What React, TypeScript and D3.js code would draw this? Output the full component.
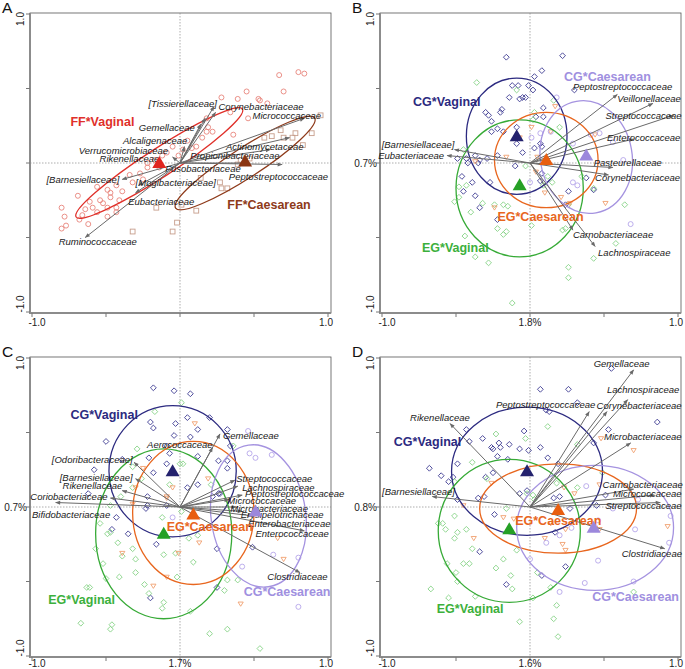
import React from 'react';
import * as d3 from 'd3';

type Pt = [number, number];
type Arrow = [string, number, number, number, number, 'start' | 'end'];
type Ell = [number, number, number, number, number];
type GLabel = [string, number, number];

// ---------------- Panel A ----------------
const A_ffVaginal: Pt[] = [
  [0.67, 0.59], [0.80, 0.61], [0.84, 0.60], [0.70, 0.48], [0.45, 0.48], [0.39, 0.43], [0.28, 0.44],
  [0.53, 0.43], [0.54, 0.42], [0.59, 0.40], [0.46, 0.30], [0.34, 0.34], [0.36, 0.19], [0.18, 0.30],
  [0.19, 0.24], [0.22, 0.21], [0.18, 0.21], [0.15, 0.17], [0.11, 0.11], [0.08, 0.10], [0.05, 0.15],
  [0.02, 0.09], [-0.01, 0.05], [-0.05, 0.11], [-0.09, 0.07], [-0.12, 0.05], [-0.22, 0.0],
  [-0.69, -0.22], [-0.80, -0.30], [-0.78, -0.36], [-0.80, -0.44], [-0.77, -0.42], [-0.68, -0.38],
  [-0.62, -0.41], [-0.64, -0.31], [-0.56, -0.16], [-0.49, -0.18], [-0.47, -0.20], [-0.54, -0.25],
  [-0.52, -0.27], [-0.59, -0.30], [-0.49, -0.30], [-0.43, -0.30], [-0.47, -0.23], [-0.39, -0.19],
  [-0.34, -0.08], [-0.27, -0.07], [-0.25, -0.11], [-0.32, -0.13], [-0.22, -0.03], [-0.43, -0.15],
  [-0.49, -0.36], [-0.43, -0.33], [-0.56, -0.33], [-0.66, -0.35], [-0.61, -0.26], [-0.41, -0.25],
  [-0.17, 0.02], [-0.14, -0.03],
];
const A_ffCaesarean: Pt[] = [
  [0.95, 0.32], [0.89, 0.20], [0.78, 0.20], [0.76, 0.17], [0.83, 0.12], [0.70, 0.17], [0.62, 0.18],
  [0.57, 0.17], [0.68, 0.22], [0.41, 0.02], [0.27, -0.13], [0.32, -0.17], [0.28, -0.17], [-0.16, -0.30],
  [0.11, -0.32], [-0.02, -0.40], [-0.05, -0.46], [-0.32, -0.46], [0.01, -0.28], [0.14, -0.10],
  [0.39, -0.01], [0.47, 0.03],
];
const A_centroids: Pt[] = [[-0.14, 0.0], [0.44, 0.01]];
const A_ellipses: Ell[] = [[-0.14, 0.0, 0.67, 0.095, 33], [0.44, 0.0, 0.56, 0.1, 33]];
const A_groupLabels: GLabel[] = [['FF*Vaginal', -0.74, 0.28], ['FF*Caesarean', 0.32, -0.28]];
const A_arrows: Arrow[] = [
  ['[Tissierellaceae]', 0.23, 0.38, 0.25, 0.40, 'end'],
  ['Corynebacteriaceae', 0.24, 0.34, 0.26, 0.38, 'start'],
  ['Micrococcaceae', 0.84, 0.30, 0.49, 0.32, 'start'],
  ['Gemellaceae', 0.17, 0.30, 0.10, 0.24, 'end'],
  ['Alcaligenaceae', 0.14, 0.26, 0.05, 0.15, 'end'],
  ['Verrucomicrobiaceae', 0.03, 0.11, -0.08, 0.08, 'end'],
  ['Rikenellaceae', -0.05, 0.04, -0.14, 0.03, 'end'],
  ['Actinomycetaceae', 0.74, 0.17, 0.31, 0.11, 'start'],
  ['Propionibacteriaceae', 0.61, 0.09, 0.07, 0.05, 'start'],
  ['Fusobacteriaceae', 0.45, 0.0, -0.10, -0.04, 'start'],
  ['Peptostreptococcaceae', 0.69, -0.01, 0.33, -0.09, 'start'],
  ['[Barnesiellaceae]', -0.39, -0.11, -0.41, -0.11, 'end'],
  ['[Mogibacteriaceae]', -0.28, -0.15, -0.30, -0.13, 'start'],
  ['Eubacteriaceae', -0.30, -0.20, -0.35, -0.26, 'start'],
  ['Ruminococcaceae', -0.64, -0.50, -0.82, -0.53, 'start'],
];

// ---------------- Panel B ----------------
const B_cgVaginal: Pt[] = [
  [-0.16, 0.71], [0.22, 0.72], [0.08, 0.62], [0.03, 0.58], [-0.12, 0.52], [-0.08, 0.52], [-0.01, 0.52],
  [0.02, 0.49], [-0.14, 0.44], [-0.05, 0.44], [-0.03, 0.44], [-0.07, 0.43], [-0.30, 0.34], [-0.28, 0.32],
  [-0.19, 0.36], [-0.20, 0.34], [-0.26, 0.28], [-0.22, 0.23], [-0.18, 0.21], [-0.26, 0.21], [-0.09, 0.24],
  [0.09, 0.37], [0.04, 0.31], [0.09, 0.31], [0.07, 0.13], [0.08, 0.11], [0.03, 0.10], [-0.09, 0.13],
  [-0.05, 0.07], [-0.43, 0.03], [-0.37, 0.05], [-0.34, 0.02], [-0.29, 0.03], [-0.35, 0.0], [-0.49, 0.03],
  [-0.42, 0.0], [-0.22, 0.05], [0.30, 0.49], [-0.46, -0.09], [-0.39, -0.13], [-0.45, -0.19],
  [-0.37, -0.22], [-0.34, -0.30], [-0.27, -0.13], [-0.22, -0.38], [-0.10, -0.02], [0.07, -0.12],
  [0.26, -0.19], [0.38, -0.10], [0.43, -0.18], [0.24, -0.28], [0.08, -0.07],
];
const B_egVaginal: Pt[] = [
  [-0.36, 0.54], [-0.09, 0.49], [0.03, 0.34], [0.16, 0.42], [0.20, 0.24], [0.02, 0.29], [-0.45, 0.09],
  [-0.51, -0.26], [-0.48, -0.23], [-0.43, -0.15], [-0.48, -0.16], [-0.40, -0.33], [-0.32, -0.27],
  [-0.24, -0.28], [-0.18, -0.28], [-0.15, -0.29], [-0.44, -0.49], [-0.37, -0.63], [-0.28, -0.67],
  [-0.22, -0.44], [-0.16, -0.46], [-0.18, -0.48], [0.01, -0.42], [0.22, -0.45], [0.24, -0.44],
  [0.26, -0.28], [0.35, -0.09], [0.43, -0.17], [0.58, -0.54], [0.43, -0.64], [0.26, -0.70],
  [0.26, -0.77], [-0.12, -0.94], [0.12, -0.09], [-0.03, -0.02], [0.09, -0.15], [0.15, -0.13], [0.64, -0.28],
];
const B_egCaesarean: Pt[] = [
  [0.17, 0.38], [0.01, 0.24], [0.14, 0.21], [-0.07, 0.17], [-0.16, 0.04], [-0.37, 0.01], [0.44, 0.19],
  [0.05, 0.04], [0.04, -0.06], [0.10, -0.20], [0.21, -0.23], [0.27, -0.27], [0.51, -0.27], [-0.24, -0.30],
];
const B_cgCaesarean: Pt[] = [
  [0.18, 0.44], [0.01, 0.17], [0.07, 0.20], [0.14, 0.21], [0.41, 0.19], [0.47, 0.20], [0.56, 0.14],
  [0.29, 0.13], [0.63, 0.02], [0.0, -0.13], [0.29, -0.13], [0.32, -0.15], [0.68, -0.41],
];
const B_centroids: Pt[] = [[-0.09, 0.18], [-0.07, -0.15], [0.11, 0.02], [0.38, 0.05]];
const B_ellipses: Ell[] = [
  [-0.09, 0.18, 0.34, 0.39, 0], [-0.07, -0.17, 0.43, 0.46, 0], [0.11, 0.02, 0.35, 0.32, 0], [0.38, 0.04, 0.31, 0.38, 10],
];
const B_groupLabels: GLabel[] = [
  ['CG*Vaginal', -0.79, 0.41], ['EG*Vaginal', -0.73, -0.57], ['EG*Caesarean', -0.22, -0.36], ['CG*Caesarean', 0.23, 0.58],
];
const B_arrows: Arrow[] = [
  ['Peptostreptococcaceae', 0.59, 0.46, 0.29, 0.51, 'start'],
  ['Veillonellaceae', 0.83, 0.40, 0.59, 0.43, 'start'],
  ['Streptococcaceae', 0.97, 0.32, 0.51, 0.32, 'start'],
  ['Enterococcaceae', 0.70, 0.16, 0.52, 0.17, 'start'],
  ['Pasteurellaceae', 0.56, -0.03, 0.43, 0.0, 'start'],
  ['Corynebacteriaceae', 0.53, -0.08, 0.44, -0.10, 'start'],
  ['Carnobacteriaceae', 0.29, -0.45, 0.29, -0.48, 'start'],
  ['Lachnospiraceae', 0.44, -0.56, 0.46, -0.60, 'start'],
  ['[Barnesiellaceae]', -0.51, 0.09, -0.51, 0.12, 'end'],
  ['Eubacteriaceae', -0.56, 0.05, -0.58, 0.05, 'end'],
];

// ---------------- Panel C ----------------
const C_cgVaginal: Pt[] = [
  [-0.18, 0.80], [-0.04, 0.78], [0.07, 0.76], [-0.20, 0.57], [-0.18, 0.53], [-0.03, 0.56], [0.05, 0.60],
  [0.12, 0.52], [0.20, 0.60], [0.32, 0.52], [-0.50, 0.44], [-0.04, 0.48], [0.07, 0.47], [-0.09, 0.41],
  [-0.07, 0.36], [-0.21, 0.33], [-0.09, 0.29], [-0.18, 0.23], [-0.39, 0.32], [0.12, 0.34], [0.12, 0.15],
  [0.32, 0.31], [0.26, 0.31], [0.32, 0.26], [-0.58, 0.25], [-0.22, 0.07], [0.05, 0.13], [0.26, 0.09],
  [0.22, 0.07], [0.34, 0.41], [-0.62, 0.09], [-0.22, 0.01], [-0.23, -0.01], [-0.43, -0.07], [-0.46, -0.15],
  [-0.35, -0.18], [-0.16, -0.25], [0.25, -0.28], [0.25, -0.54], [-0.20, -0.61], [0.49, -0.27], [0.27, 0.09],
  [-0.09, 0.01],
];
const C_egVaginal: Pt[] = [
  [-0.17, 0.64], [0.01, 0.70], [-0.29, 0.39], [0.0, 0.29], [0.02, 0.29], [0.36, 0.41], [0.21, 0.15],
  [-0.07, 0.15], [-0.26, 0.19], [-0.32, 0.27], [-0.32, 0.13], [-0.54, -0.11], [-0.49, -0.18], [-0.57, -0.28],
  [-0.47, -0.17], [-0.42, -0.24], [-0.52, -0.38], [-0.50, -0.48], [-0.63, -0.54], [-0.61, -0.54],
  [-0.67, -0.78], [-0.46, -0.79], [-0.47, -0.82], [-0.41, -0.47], [-0.30, -0.44], [-0.30, -0.35],
  [-0.39, -0.33], [-0.32, -0.28], [-0.24, -0.52], [-0.21, -0.58], [-0.11, -0.64], [-0.12, -0.68],
  [-0.11, -0.32], [-0.03, -0.31], [-0.02, -0.47], [0.09, -0.37], [0.06, -0.21], [0.07, -0.70], [0.12, -0.19],
  [0.32, -0.49], [0.30, -0.56], [0.39, -0.49], [0.20, -0.85], [0.32, -0.82], [0.54, -0.95], [-0.12, -0.07],
  [-0.47, 0.01], [-0.40, 0.07], [0.01, -0.03],
];
const C_egCaesarean: Pt[] = [
  [0.10, 0.56], [0.19, 0.19], [-0.05, 0.13], [-0.09, 0.07], [-0.30, 0.13], [-0.25, 0.26], [-0.32, 0.02],
  [-0.39, -0.31], [-0.01, -0.31], [0.13, -0.24], [-0.09, -0.47], [-0.18, -0.53], [0.41, -0.65],
  [0.70, -0.35], [0.66, -0.21], [-0.09, 0.06],
];
const C_cgCaesarean: Pt[] = [
  [0.46, 0.51], [0.47, 0.36], [0.51, 0.33], [0.62, 0.35], [-0.05, -0.07], [0.63, -0.32], [0.80, -0.34],
  [0.80, -0.67], [0.42, -0.40],
];
const C_centroids: Pt[] = [[-0.05, 0.24], [-0.11, -0.18], [0.09, -0.05], [0.51, -0.03]];
const C_ellipses: Ell[] = [
  [-0.05, 0.24, 0.43, 0.44, 0], [-0.11, -0.18, 0.46, 0.57, 0], [0.09, -0.04, 0.41, 0.48, 0], [0.53, -0.06, 0.32, 0.48, 8],
];
const C_groupLabels: GLabel[] = [
  ['CG*Vaginal', -0.74, 0.62], ['EG*Vaginal', -0.89, -0.62], ['EG*Caesarean', -0.09, -0.13], ['CG*Caesarean', 0.43, -0.57],
];
const C_arrows: Arrow[] = [
  ['Gemellaceae', 0.27, 0.49, 0.29, 0.48, 'start'],
  ['Aerococcaceae', 0.22, 0.40, 0.22, 0.42, 'end'],
  ['[Odoribacteraceae]', -0.31, 0.30, -0.32, 0.32, 'end'],
  ['[Barnesiellaceae]', -0.30, 0.19, -0.32, 0.20, 'end'],
  ['Rikenellaceae', -0.39, 0.11, -0.39, 0.14, 'end'],
  ['Coriobacteriaceae', -0.47, 0.06, -0.49, 0.07, 'end'],
  ['Bifidobacteriaceae', -0.84, 0.03, -1.0, -0.05, 'start'],
  ['Streptococcaceae', 0.37, 0.18, 0.38, 0.19, 'start'],
  ['Lachnospiraceae', 0.39, 0.14, 0.42, 0.13, 'start'],
  ['Peptostreptococcaceae', 0.42, 0.08, 0.44, 0.09, 'start'],
  ['Micrococcaceae', 0.33, 0.05, 0.32, 0.04, 'start'],
  ['Microbacteriaceae', 0.38, 0.0, 0.34, -0.01, 'start'],
  ['Erysipelotrichaceae', 0.42, -0.03, 0.41, -0.05, 'start'],
  ['Enterobacteriaceae', 0.49, -0.06, 0.46, -0.11, 'start'],
  ['Enterococcaceae', 0.84, -0.16, 0.51, -0.18, 'start'],
  ['Clostridiaceae', 0.81, -0.44, 0.59, -0.47, 'start'],
];

// ---------------- Panel D ----------------
const D_cgVaginal: Pt[] = [
  [0.55, 0.93], [0.07, 0.79], [0.26, 0.79], [0.32, 0.70], [0.11, 0.65], [0.13, 0.64], [0.86, 0.57],
  [-0.43, 0.52], [-0.04, 0.51], [0.53, 0.52], [-0.41, 0.44], [-0.32, 0.46], [-0.21, 0.43], [-0.14, 0.42],
  [-0.26, 0.40], [-0.25, 0.39], [-0.20, 0.40], [-0.07, 0.39], [-0.01, 0.38], [0.07, 0.40], [-0.22, 0.34],
  [-0.15, 0.32], [0.12, 0.33], [0.43, 0.43], [-0.68, 0.26], [-0.60, 0.21], [-0.52, 0.20], [-0.55, 0.17],
  [-0.49, 0.29], [-0.30, 0.20], [-0.25, 0.23], [0.19, 0.29], [-0.02, 0.11], [-0.07, 0.09], [-0.31, 0.07],
  [-0.49, 0.05], [-0.35, 0.06], [-0.24, -0.05], [-0.34, -0.30], [-0.16, -0.52], [0.08, -0.46],
  [0.17, -0.17], [0.24, -0.40], [0.16, 0.06], [0.20, 0.07], [0.27, -0.01], [0.51, 0.08], [0.45, 0.01],
];
const D_egVaginal: Pt[] = [
  [-0.23, 0.49], [-0.03, 0.46], [0.12, 0.54], [-0.39, 0.30], [-0.29, 0.19], [-0.51, 0.17], [0.32, 0.42],
  [0.32, 0.13], [0.18, 0.16], [0.02, 0.08], [0.49, 0.23], [-0.62, -0.11], [-0.59, -0.11], [-0.57, -0.15],
  [-0.51, -0.06], [-0.49, -0.17], [-0.51, -0.21], [-0.43, -0.15], [-0.39, -0.28], [-0.45, -0.38],
  [-0.41, -0.38], [-0.56, -0.38], [-0.50, -0.44], [-0.49, -0.50], [-0.67, -0.55], [-0.55, -0.61],
  [-0.37, -0.60], [-0.18, -0.35], [-0.23, -0.41], [-0.13, -0.46], [-0.12, -0.55], [-0.09, -0.29],
  [0.02, -0.61], [0.05, -0.44], [0.14, -0.54], [0.18, -0.66], [0.16, -0.75], [0.19, -0.87], [-0.07, -0.77],
  [0.70, -0.57], [-0.16, -0.01], [-0.02, 0.09], [0.03, 0.05],
];
const D_egCaesarean: Pt[] = [
  [0.48, 0.46], [0.70, 0.38], [-0.26, 0.16], [0.23, 0.13], [0.47, 0.15], [0.30, 0.09], [-0.45, 0.01],
  [-0.18, -0.07], [-0.38, -0.21], [0.10, -0.21], [0.22, -0.25], [0.24, -0.29], [0.24, -0.15], [0.14, -0.11],
  [0.44, -0.14], [0.47, -0.15], [0.93, -0.13], [-0.11, -0.08],
];
const D_cgCaesarean: Pt[] = [
  [0.38, 0.14], [0.46, -0.09], [0.71, -0.15], [0.95, -0.06], [0.94, -0.24], [0.46, -0.36], [0.37, -0.51],
  [0.20, -0.57], [0.70, -0.50], [0.56, -0.01], [0.28, -0.14], [0.20, -0.19], [0.0, -0.35], [0.11, -0.24],
  [0.73, 0.05],
];
const D_centroids: Pt[] = [[-0.02, 0.24], [-0.14, -0.15], [0.19, -0.02], [0.43, -0.14]];
const D_ellipses: Ell[] = [
  [-0.02, 0.24, 0.51, 0.43, 0], [-0.14, -0.16, 0.48, 0.48, 0], [0.19, -0.01, 0.53, 0.30, 0], [0.44, -0.14, 0.53, 0.42, 0],
];
const D_groupLabels: GLabel[] = [
  ['CG*Vaginal', -0.92, 0.44], ['EG*Vaginal', -0.63, -0.68], ['EG*Caesarean', -0.10, -0.09], ['CG*Caesarean', 0.42, -0.60],
];
const D_arrows: Arrow[] = [
  ['Gemellaceae', 0.70, 0.92, 0.43, 0.96, 'start'],
  ['Lachnospiraceae', 0.66, 0.72, 0.52, 0.79, 'start'],
  ['Corynebacteriaceae', 0.52, 0.64, 0.45, 0.68, 'start'],
  ['Peptostreptococcaceae', 0.40, 0.64, -0.23, 0.69, 'start'],
  ['Rikenellaceae', -0.54, 0.56, -0.81, 0.60, 'start'],
  ['Microbacteriaceae', 0.68, 0.43, 0.50, 0.47, 'start'],
  ['[Barnesiellaceae]', -0.66, 0.07, -1.0, 0.10, 'start'],
  ['Carnobacteriaceae', 0.70, 0.12, 0.49, 0.15, 'start'],
  ['Micrococcaceae', 0.84, 0.08, 0.56, 0.09, 'start'],
  ['Streptococcaceae', 0.88, 0.03, 0.51, 0.01, 'start'],
  ['Clostridiaceae', 0.91, -0.28, 0.62, -0.31, 'start'],
];

// axis labels
const xTickLabels = [['-1.0', '', '1.0'], ['-1.0', '1.8%', '1.0'], ['-1.0', '1.7%', '1.0'], ['-1.0', '1.6%', '1.0']];
const yMidLabels = ['', '0.7%', '0.7%', '0.8%'];
const panelLetters = ['A', 'B', 'C', 'D'];
const ticks = [-1, -0.5, 0, 0.5, 1];

// ---------------- styles ----------------
type Shape = 'circle' | 'square' | 'diamond' | 'down';
interface GroupStyle { shape: Shape; pt: string; line: string; tri: string; text: string; }
const S_ffv: GroupStyle = { shape: 'circle', pt: '#e8847c', line: '#e0302a', tri: '#e0251f', text: '#e0302a' };
const S_ffc: GroupStyle = { shape: 'square', pt: '#c79e8c', line: '#8e3a1a', tri: '#8a3512', text: '#8e3a1a' };
const S_cgv: GroupStyle = { shape: 'diamond', pt: '#3d3b92', line: '#2c2a80', tri: '#24226e', text: '#2c2a80' };
const S_egv: GroupStyle = { shape: 'diamond', pt: '#86d286', line: '#36aa36', tri: '#26a026', text: '#3cb03c' };
const S_egc: GroupStyle = { shape: 'down', pt: '#f0a070', line: '#e8661e', tri: '#e85e10', text: '#e8661e' };
const S_cgc: GroupStyle = { shape: 'circle', pt: '#b6a6ea', line: '#a593e0', tri: '#9c88dc', text: '#a090e0' };

interface PanelData {
  groups: { pts: Pt[]; style: GroupStyle }[];
  centroids: Pt[];
  ellipses: Ell[];
  labels: GLabel[];
  arrows: Arrow[];
}

const panels: PanelData[] = [
  { groups: [{ pts: A_ffVaginal, style: S_ffv }, { pts: A_ffCaesarean, style: S_ffc }], centroids: A_centroids, ellipses: A_ellipses, labels: A_groupLabels, arrows: A_arrows },
  { groups: [{ pts: B_cgVaginal, style: S_cgv }, { pts: B_egVaginal, style: S_egv }, { pts: B_egCaesarean, style: S_egc }, { pts: B_cgCaesarean, style: S_cgc }], centroids: B_centroids, ellipses: B_ellipses, labels: B_groupLabels, arrows: B_arrows },
  { groups: [{ pts: C_cgVaginal, style: S_cgv }, { pts: C_egVaginal, style: S_egv }, { pts: C_egCaesarean, style: S_egc }, { pts: C_cgCaesarean, style: S_cgc }], centroids: C_centroids, ellipses: C_ellipses, labels: C_groupLabels, arrows: C_arrows },
  { groups: [{ pts: D_cgVaginal, style: S_cgv }, { pts: D_egVaginal, style: S_egv }, { pts: D_egCaesarean, style: S_egc }, { pts: D_cgCaesarean, style: S_cgc }], centroids: D_centroids, ellipses: D_ellipses, labels: D_groupLabels, arrows: D_arrows },
];
const offsets: Pt[] = [[0, 0], [350, 0], [0, 344], [350, 344]];

const FONT = '"Liberation Sans", Arial, sans-serif';

function Marker({ shape, color, x, y }: { shape: Shape; color: string; x: number; y: number }) {
  const common = { fill: 'none', stroke: color, strokeWidth: 0.9 };
  if (shape === 'circle') return <circle cx={x} cy={y} r={2.5} {...common} />;
  if (shape === 'square') return <rect x={x - 2.4} y={y - 2.4} width={4.8} height={4.8} {...common} />;
  if (shape === 'diamond') return <path d={`M${x},${y - 2.9}L${x + 2.9},${y}L${x},${y + 2.9}L${x - 2.9},${y}Z`} {...common} />;
  return <path d={`M${x - 2.6},${y - 1.8}L${x + 2.6},${y - 1.8}L${x},${y + 2.4}Z`} {...common} />;
}

function Panel({ idx }: { idx: number }) {
  const data = panels[idx];
  const [ox, oy] = offsets[idx];
  const x = d3.scaleLinear().domain([-1, 1]).range([32, 328]);
  const y = d3.scaleLinear().domain([-1, 1]).range([312, 14]);
  const left = 30, right = 331, top = 13, bottom = 313;
  const cx0 = x(0), cy0 = y(0);
  const styles = data.groups.map((g) => g.style);
  const xl = xTickLabels[idx];
  const xLabY = idx < 2 ? bottom + 13 : bottom + 10;
  return (
    <g transform={`translate(${ox},${oy})`} fontFamily={FONT}>
      <text x={2} y={idx < 2 ? 13 : 13} fontSize={15.5} fill="#111">{panelLetters[idx]}</text>
      <rect x={left} y={top} width={right - left} height={bottom - top} fill="#fff" stroke="#555" strokeWidth={0.8} />
      <line x1={cx0} x2={cx0} y1={top} y2={bottom} stroke="#8a8a8a" strokeWidth={0.7} strokeDasharray="1.5,1.5" />
      <line x1={left} x2={right} y1={cy0} y2={cy0} stroke="#8a8a8a" strokeWidth={0.7} strokeDasharray="1.5,1.5" />
      {/* axes */}
      <line x1={left} x2={left} y1={top} y2={bottom + 1} stroke="#8c8c8c" strokeWidth={2} />
      <line x1={left - 1} x2={right} y1={bottom} y2={bottom} stroke="#8c8c8c" strokeWidth={2} />
      {ticks.map((t) => (
        <g key={'t' + t}>
          <line x1={left} x2={left - 4} y1={y(t)} y2={y(t)} stroke="#777" strokeWidth={1} />
          <line x1={x(t)} x2={x(t)} y1={bottom} y2={bottom + 4} stroke="#777" strokeWidth={1} />
        </g>
      ))}
      <text x={x(-1) + 5} y={xLabY} fontSize={10} textAnchor="middle" fill="#222">{xl[0]}</text>
      {xl[1] && <text x={cx0} y={xLabY} fontSize={10} textAnchor="middle" fill="#222">{xl[1]}</text>}
      <text x={x(1) - 2} y={xLabY} fontSize={10} textAnchor="middle" fill="#222">{xl[2]}</text>
      <text transform={`translate(${left - 6},${top + 6}) rotate(-90)`} fontSize={10} textAnchor="middle" fill="#222">1.0</text>
      <text transform={`translate(${left - 6},${bottom - 9}) rotate(-90)`} fontSize={10} textAnchor="middle" fill="#222">-1.0</text>
      {yMidLabels[idx] && <text x={left - 3} y={cy0 + 4} fontSize={10} textAnchor="end" fill="#222">{yMidLabels[idx]}</text>}
      {/* points */}
      {data.groups.map((g, gi) => (
        <g key={'g' + gi}>
          {g.pts.map((p, i) => <Marker key={i} shape={g.style.shape} color={g.style.pt} x={x(p[0])} y={y(p[1])} />)}
        </g>
      ))}
      {/* ellipses */}
      {data.ellipses.map((e, i) => (
        <ellipse key={'e' + i} cx={x(e[0])} cy={y(e[1])} rx={x(e[2]) - x(0)} ry={y(0) - y(e[3])}
          transform={`rotate(${-e[4]},${x(e[0])},${y(e[1])})`} fill="none" stroke={styles[i].line} strokeWidth={1.3} />
      ))}
      {/* arrows */}
      {data.arrows.map((a, i) => (
        <line key={'a' + i} x1={cx0} y1={cy0} x2={x(a[1])} y2={y(a[2])} stroke="#6a6a6a" strokeWidth={1} markerEnd="url(#ah)" />
      ))}
      {data.arrows.map((a, i) => (
        <text key={'al' + i} x={x(a[3])} y={y(a[4])} dy="0.35em" fontSize={9.5} fontStyle="italic" textAnchor={a[5]} fill="#1a1a1a">{a[0]}</text>
      ))}
      {/* group labels */}
      {data.labels.map((l, i) => (
        <text key={'gl' + i} x={x(l[1])} y={y(l[2])} dy="0.35em" fontSize={12.5} fontWeight="bold" fill={styles[i].text}>{l[0]}</text>
      ))}
      {/* centroids */}
      {data.centroids.map((c, i) => {
        const px = x(c[0]), py = y(c[1]);
        return <path key={'c' + i} d={`M${px},${py - 7}L${px + 7},${py + 5}L${px - 7},${py + 5}Z`} fill={styles[i].tri} />;
      })}
    </g>
  );
}

export default function App() {
  return (
    <svg width={685} height={669} style={{ position: 'absolute', left: 0, top: 0, background: '#fff' }}>
      <defs>
        <marker id="ah" viewBox="0 0 10 10" refX={9} refY={5} markerWidth={6} markerHeight={5} orient="auto" markerUnits="userSpaceOnUse">
          <path d="M0,1L10,5L0,9Z" fill="#6a6a6a" />
        </marker>
      </defs>
      <rect width={685} height={669} fill="#fff" />
      {[0, 1, 2, 3].map((i) => <Panel key={i} idx={i} />)}
    </svg>
  );
}
